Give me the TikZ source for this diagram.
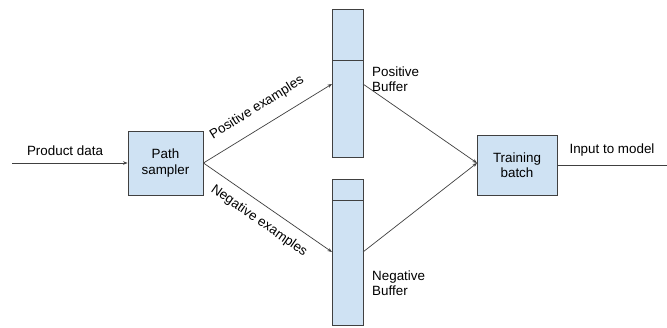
\documentclass[tikz,border=0pt]{standalone}
\usepackage{fontspec}
\setmainfont{Liberation Sans}
\usetikzlibrary{arrows.meta}
\definecolor{boxfill}{HTML}{CFE2F3}
\definecolor{edge}{HTML}{404040}
\begin{document}
\begin{tikzpicture}[x=1pt,y=-1pt,
  box/.style={draw=edge,fill=boxfill,line width=0.9pt,inner sep=0pt},
  conn/.style={draw=edge,line width=0.7pt},
  arr/.style={conn,-{Stealth[length=4.5pt,width=3.5pt]}},
  lbl/.style={font=\fontsize{13.4}{15.5}\selectfont,text=black,inner sep=0pt,align=left}]
\useasboundingbox (0,0) rectangle (667,327);
\fill[white] (0,0) rectangle (667,327);
% boxes
\node[box,minimum width=75pt,minimum height=64pt,lbl,align=center] (ps) at (165.5,163) {Path\\sampler};
\node[box,minimum width=80pt,minimum height=60pt,lbl,align=center] (tb) at (517,165) {Training\\batch};
% positive buffer
\draw[box] (332,9) rectangle (363,157);
\draw[edge,line width=0.9pt] (332,60) -- (363,60);
\coordinate (pin) at (332,84);
\coordinate (pout) at (363,84);
% negative buffer
\draw[box] (332,179) rectangle (363,325);
\draw[edge,line width=0.9pt] (332,200) -- (363,200);
\coordinate (nin) at (332,252);
\coordinate (nout) at (363,252);
% input / output ends
\coordinate (start) at (12,163);
\coordinate (tbin) at (477,163);
\coordinate (outend) at (667,165);
% connectors
\draw[arr] (start) -- (ps.west);
\draw[arr] (ps.east) -- (pin);
\draw[arr] (ps.east) -- (nin);
\draw[arr] (pout) -- (tbin);
\draw[arr] (nout) -- (tbin);
\draw[conn] (tb.east) -- (outend);
% labels
\node[lbl] (pd) at (65,151) {Product data};
\node[lbl] (itm) at (612,150) {Input to model};
\node[lbl,anchor=west] (pb) at (372,79) {Positive\\Buffer};
\node[lbl,anchor=west] (nb) at (372,283) {Negative\\Buffer};
\node[lbl,rotate=32] (pe) at (257,108) {Positive examples};
\node[lbl,rotate=-35] (ne) at (259,221) {Negative examples};
\end{tikzpicture}
\end{document}
